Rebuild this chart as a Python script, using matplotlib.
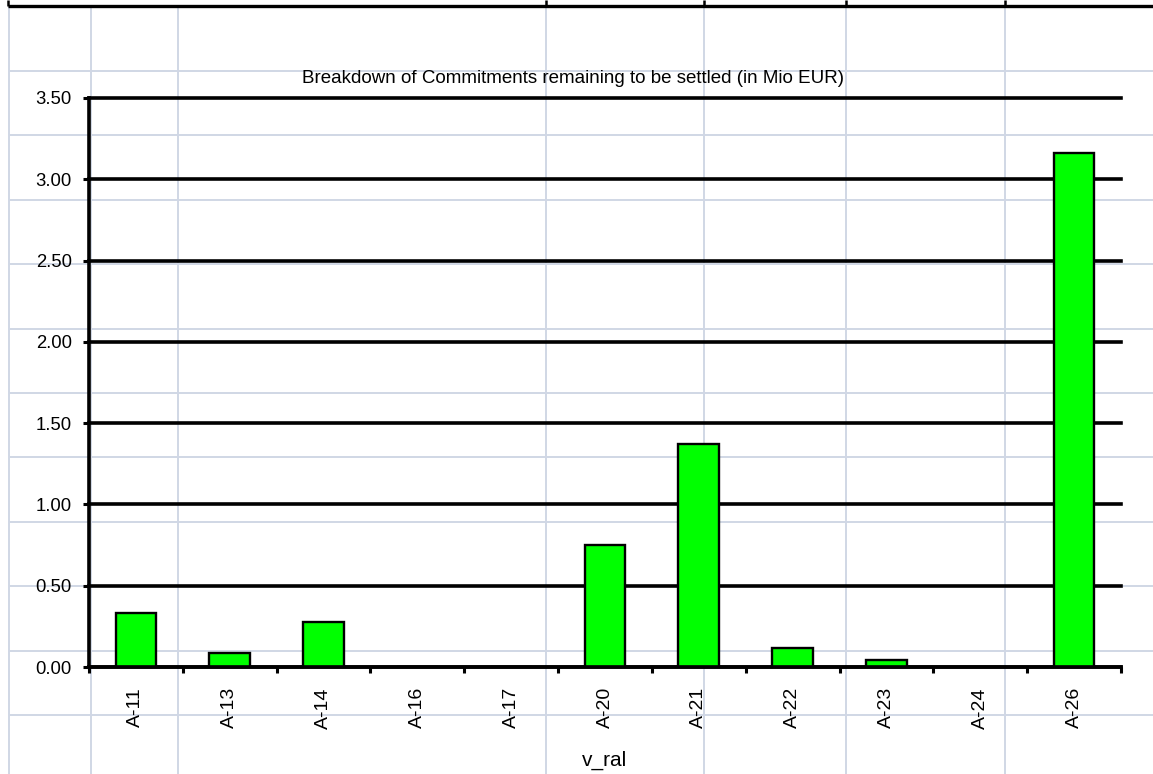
import matplotlib
matplotlib.use("Agg")
import matplotlib.pyplot as plt
import numpy as np

plt.rcParams['font.family'] = ['Liberation Sans', 'DejaVu Sans']

# Commitments remaining to be settled, by budget line (Mio EUR)
categories = ["A-11", "A-13", "A-14", "A-16", "A-17", "A-20",
              "A-21", "A-22", "A-23", "A-24", "A-26"]
values = [0.334, 0.088, 0.279, 0.003, 0.0, 0.751,
          1.372, 0.119, 0.045, 0.003, 3.161]
y_ticks = [0.0, 0.5, 1.0, 1.5, 2.0, 2.5, 3.0, 3.5]

title = "Breakdown of Commitments remaining to be settled (in Mio EUR)"
x_label = "v_ral"

W, H = 1153, 774
fig = plt.figure(figsize=(W / 100, H / 100), dpi=100)
fig.patch.set_facecolor("white")

# Worksheet cell grid behind the chart (pixel space)
bg = fig.add_axes([0, 0, 1, 1], zorder=0)
bg.set_xlim(0, W)
bg.set_ylim(H, 0)
bg.axis("off")
cell_col = "#D0D7E5"
col_edges = [9, 91, 178, 546, 704, 846, 1005]
row_edges = [71 + 64.4 * k for k in range(11)]
for x in col_edges:
    bg.plot([x, x], [6, H], color=cell_col, lw=1.4, solid_capstyle="butt")
for y in row_edges:
    bg.plot([9, W], [y, y], color=cell_col, lw=1.4, solid_capstyle="butt")
# Heavy border of the header row above
bg.plot([8, W], [6, 6], color="black", lw=2.4, solid_capstyle="butt")
for x in [8, 546, 704, 846, 1005]:
    bg.plot([x, x], [0, 6], color="black", lw=1.8, solid_capstyle="butt")

# Chart plot area
x0, x1 = 89, 1121
y0, y1 = 667, 98
ax = fig.add_axes([x0 / W, 1 - y0 / H, (x1 - x0) / W, (y0 - y1) / H], zorder=1)
ax.patch.set_alpha(0)

pos = np.arange(len(categories))
ax.bar(pos, values, width=0.435, color="#00FF00", edgecolor="black",
       linewidth=1.7, zorder=3)

ax.set_xlim(-0.5, len(categories) - 0.5)
ax.set_ylim(0, 3.5)

ax.set_yticks(y_ticks)
ax.set_yticklabels([f"{v:.2f}" for v in y_ticks], fontsize=13.3)
ax.yaxis.grid(True, color="black", lw=2.6, zorder=1)
ax.set_axisbelow(True)
ax.tick_params(axis="y", direction="out", length=4.5, width=2.2, pad=8)

# Category boundaries carry the ticks, centres carry the labels
ax.set_xticks(np.arange(len(categories) + 1) - 0.5)
ax.set_xticklabels([])
ax.tick_params(axis="x", which="major", direction="out", length=4, width=2.2)
ax.set_xticks(pos, minor=True)
ax.set_xticklabels(categories, minor=True, rotation=90, fontsize=14)
ax.tick_params(axis="x", which="minor", length=0, pad=14.5)

for side in ["top", "right"]:
    ax.spines[side].set_visible(False)
for side in ["left", "bottom"]:
    ax.spines[side].set_linewidth(2.6)
    ax.spines[side].set_zorder(4)

fig.canvas.draw()
for gl in ax.get_ygridlines():
    gl.set_clip_on(False)

fig.text(572.5 / W, 1 - 83 / H, title, ha="center", va="baseline",
         fontsize=13.5)
fig.text((x0 + x1) / 2 / W, 1 - 760 / H, x_label, ha="center",
         va="center", fontsize=15)

fig.savefig("out.png", dpi=100)
